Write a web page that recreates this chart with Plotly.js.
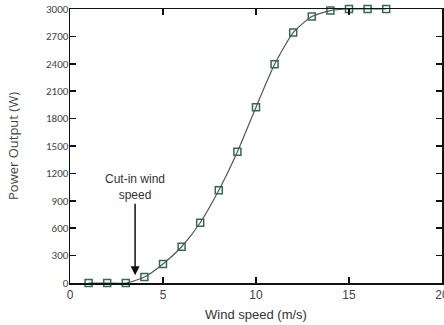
<!DOCTYPE html>
<html><head><meta charset="utf-8">
<script src="https://cdn.plot.ly/plotly-3.0.1.min.js"></script>
<style>html,body{margin:0;padding:0;background:#fff}#c{width:444px;height:325px}</style>
</head><body><div id="c"></div>
<script>
const windSpeed = [1,2,3,4,5,6,7,8,9,10,11,12,13,14,15,16,17];
const powerOutput = [0,0,0,65,208,397,660,1015,1437,1925,2395,2742,2917,2983,3000,3000,3000];
const xTicks = [0,5,10,15,20];
const yTicks = [0,300,600,900,1200,1500,1800,2100,2400,2700,3000];
const annotText = "Cut-in wind<br>speed";
const cutIn = {x: 3.5, y: 85};

const trace = {
  x: windSpeed, y: powerOutput, type: 'scatter', mode: 'lines+markers',
  line: {color: '#555', width: 1.2, shape: 'spline', smoothing: 0.6},
  marker: {symbol: 'square-open', size: 7, color: '#2e6b5a', line: {width: 1.5, color: '#2e6b5a'}},
  cliponaxis: false
};
const axisCommon = {showgrid: false, zeroline: false, showline: true, linecolor: '#111', linewidth: 1.5,
  mirror: 'ticks', ticks: 'inside', ticklen: 6, tickwidth: 1.5, tickcolor: '#111',
  ticklabeloverflow: 'allow'};
const layout = {
  width: 444, height: 325, margin: {l: 70, r: 2, t: 9, b: 42},
  paper_bgcolor: '#fff', plot_bgcolor: '#fff', showlegend: false,
  font: {family: 'Liberation Sans, Arial, sans-serif', color: '#333', size: 11},
  xaxis: Object.assign({}, axisCommon, {range: [0, 20], tickvals: xTicks, ticktext: xTicks.map(String),
    tickfont: {size: 12, color: '#444'},
    title: {text: 'Wind speed (m/s)', font: {size: 13, color: '#333'}, standoff: 9}}),
  yaxis: Object.assign({}, axisCommon, {range: [0, 3000], tickvals: yTicks, ticktext: yTicks.map(String),
    tickfont: {family: 'Carlito, Open Sans, sans-serif', size: 11, color: '#444'},
    ticklabelstandoff: -2,
    title: {text: 'Power Output (W)', font: {family: 'Open Sans, sans-serif', size: 13, color: '#444'}, standoff: 24}}),
  annotations: [{
    x: cutIn.x, y: cutIn.y, xref: 'x', yref: 'y', text: annotText, showarrow: true,
    arrowhead: 2, arrowsize: 1.2, arrowwidth: 1.5, arrowcolor: '#111', ax: 0, ay: -88,
    font: {size: 12, color: '#333'}, align: 'center'
  }]
};
Plotly.newPlot('c', [trace], layout, {displayModeBar: false, staticPlot: true});
</script></body></html>
